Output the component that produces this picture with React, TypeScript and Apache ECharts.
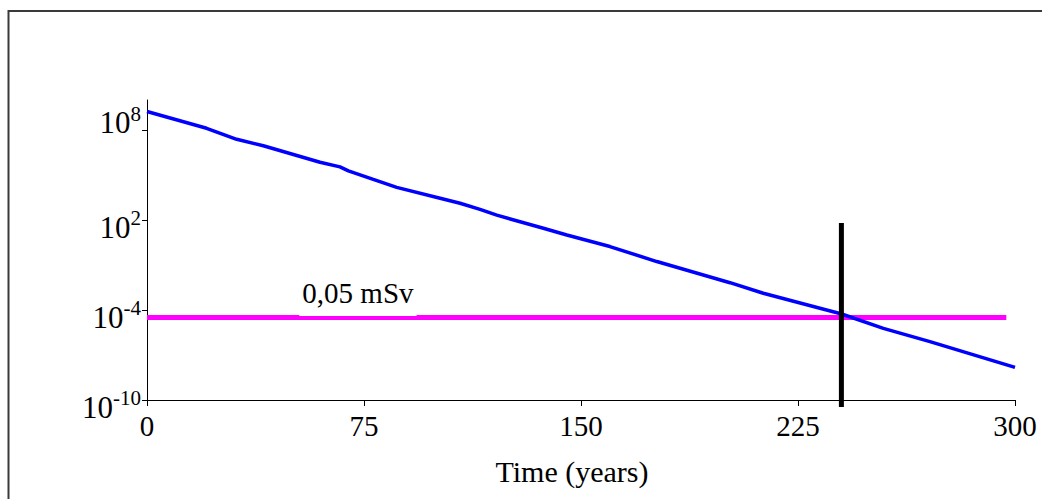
import React, { useEffect, useRef } from "react";
import * as echarts from "echarts";

// Blue curve: time (years) vs value (log scale)
const years = [0, 20.6, 31, 40.2, 59.8, 66.7, 69.6, 78.2, 86.3, 101.3, 108.2, 115.1, 120.9, 137, 145.1, 160, 176.2, 201.5, 213, 240.1, 254.5, 270.6, 300];
const activity = [1.7e9, 1.3e8, 2.4e7, 8.9e6, 7.1e5, 3.5e5, 1.9e5, 5.1e4, 1.5e4, 2.8e3, 1.3e3, 5.1e2, 2.1e2, 28, 10, 1.7, 0.17, 6.6e-3, 1.3e-3, 5.4e-5, 6.0e-6, 7.8e-7, 1.5e-8];

// Magenta threshold line (0,05 mSv)
const thresholdYears = [0, 297];
const thresholdValue = 3.2e-5;
const thresholdLabel = "0,05 mSv";
const thresholdLabelYear = 72.9;

// Black vertical marker
const markerYear = 240;
const markerRange = [3.4e-11, 63];

// Axes
const xTicks = [0, 75, 150, 225, 300];
const yTickExponents = [-10, -4, 2, 8];
const yMinExp = -10;
const yMaxExp = 10;
const xName = "Time (years)";

const FONT = "Liberation Serif";

export default function App() {
  const ref = useRef<HTMLDivElement>(null);

  useEffect(() => {
    document.body.style.margin = "0";
    if (!ref.current) return;
    const chart = echarts.init(ref.current, undefined, { renderer: "svg" });
    const lg = (v: number) => Math.log10(v);

    const option: any = {
      animation: false,
      backgroundColor: "#fff",
      graphic: [
        {
          type: "rect",
          silent: true,
          z: -1,
          shape: { x: 8.5, y: 11, width: 1200, height: 700 },
          style: { fill: "none", stroke: "#3a3a3a", lineWidth: 2 },
        },
      ],
      grid: { left: 147, right: 27, top: 100, bottom: 99, containLabel: false },
      xAxis: {
        type: "value",
        min: xTicks[0],
        max: xTicks[xTicks.length - 1],
        interval: xTicks[1] - xTicks[0],
        name: xName,
        nameLocation: "middle",
        nameGap: 56,
        nameTextStyle: { fontFamily: FONT, fontSize: 30, color: "#000", padding: [0, 18, 0, 0] },
        axisLine: { show: true, onZero: false, lineStyle: { color: "#000", width: 1 } },
        axisTick: { show: true, inside: false, length: 6, lineStyle: { color: "#000" } },
        axisLabel: { fontFamily: FONT, fontSize: 29, color: "#000", margin: 11 },
        splitLine: { show: false },
      },
      yAxis: {
        type: "value",
        min: yMinExp,
        max: yMaxExp,
        axisLine: { show: true, onZero: false, lineStyle: { color: "#000", width: 1 } },
        axisTick: { show: true, inside: false, length: 5, customValues: yTickExponents, lineStyle: { color: "#000" } },
        axisLabel: {
          customValues: yTickExponents,
          margin: 6,
          formatter: (v: number) => {
            const hi = v === 8;
            return hi ? `{bh|10}{sh|${v}}` : `{b|10}{s|${v}}`;
          },
          rich: {
            b: { fontFamily: FONT, fontSize: 31, lineHeight: 32, color: "#000", padding: [14, 0, 0, 0] },
            s: { fontFamily: FONT, fontSize: 21, lineHeight: 16, color: "#000", padding: [13, 0, 17, 0] },
            bh: { fontFamily: FONT, fontSize: 31, lineHeight: 32, color: "#000", padding: [0, 0, 16, 0] },
            sh: { fontFamily: FONT, fontSize: 21, lineHeight: 16, color: "#000", padding: [0, 0, 32, 0] },
          },
        },
        splitLine: { show: false },
      },
      series: [
        {
          name: "threshold",
          type: "line",
          symbol: "none",
          clip: false,
          lineStyle: { color: "#ff00ff", width: 5 },
          data: thresholdYears.map((x) => [x, lg(thresholdValue)]),
          markPoint: {
            symbol: "circle",
            symbolSize: 0,
            data: [{ coord: [thresholdLabelYear, lg(thresholdValue)] }],
            label: {
              show: true,
              position: "inside",
              formatter: thresholdLabel,
              fontFamily: FONT,
              fontSize: 29,
              lineHeight: 32,
              color: "#000",
              backgroundColor: "#fff",
              padding: [2, 3, 11, 3],
              offset: [0, -24],
            },
          },
        },
        {
          name: "activity",
          type: "line",
          symbol: "none",
          clip: false,
          lineStyle: { color: "#0000ff", width: 3.5 },
          data: years.map((x, i) => [x, lg(activity[i])]),
        },
        {
          name: "marker",
          type: "line",
          symbol: "none",
          clip: false,
          lineStyle: { color: "#000", width: 5 },
          data: markerRange.map((v) => [markerYear, lg(v)]),
        },
      ],
    };
    chart.setOption(option);
    return () => chart.dispose();
  }, []);

  return <div ref={ref} style={{ width: 1042, height: 499 }} />;
}
